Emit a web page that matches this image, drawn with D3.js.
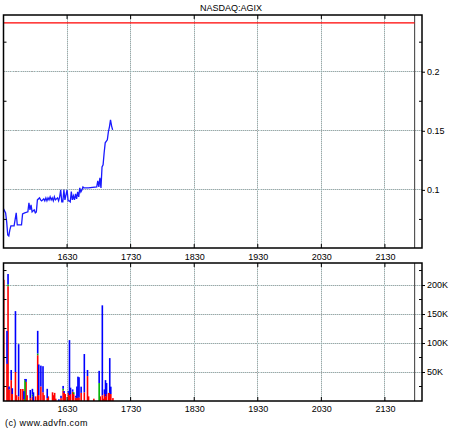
<!DOCTYPE html>
<html>
<head>
<meta charset="utf-8">
<script src="https://cdn.jsdelivr.net/npm/d3@7"></script>
<style>
body { margin: 0; background: #fff; }
text { font-family: "Liberation Sans", Arial, sans-serif; font-size: 9px; fill: #000; }
</style>
</head>
<body>
<div id="chart"></div>
<script>
//Datos del gráfico
const TITLE = 'NASDAQ:AGIX';
const COPY = '(c) www.advfn.com';

const priceTimes = ['15:30','15:31','15:32','15:33','15:34','15:35','15:36','15:37','15:40','15:42','15:43','15:47','15:48','15:50','15:53','15:54','15:55','15:56','15:57','15:59','16:00','16:01','16:02','16:04','16:05','16:06','16:08','16:09','16:10','16:11','16:12','16:13','16:14','16:15','16:16','16:17','16:18','16:19','16:21','16:22','16:23','16:24','16:25','16:26','16:27','16:28','16:29','16:30','16:31','16:32','16:33','16:34','16:35','16:36','16:37','16:38','16:39','16:40','16:41','16:42','16:43','16:44','16:45','16:46','16:50','16:58','16:59','17:00','17:01','17:02','17:03','17:04','17:05','17:06','17:08','17:09','17:10','17:11','17:12','17:13'];
const priceValues = [0.0839,0.0822,0.0805,0.0729,0.0619,0.0610,0.0661,0.0695,0.0695,0.0805,0.0703,0.0703,0.0797,0.0805,0.0814,0.0890,0.0831,0.0873,0.0814,0.0831,0.0805,0.0814,0.0915,0.0932,0.0915,0.0907,0.0924,0.0907,0.0932,0.0907,0.0932,0.0915,0.0941,0.0915,0.0932,0.0907,0.0941,0.0915,0.0932,0.0907,0.0941,0.1000,0.0898,0.0898,0.1000,0.0915,0.0958,0.1000,0.0907,0.0907,0.0898,0.0986,0.0915,0.0949,0.0915,0.0966,0.0924,0.0983,0.0941,0.1017,0.0983,0.1000,0.1025,0.1017,0.1017,0.1025,0.1076,0.1025,0.1102,0.1017,0.1195,0.1212,0.1314,0.1398,0.1424,0.1492,0.1534,0.1593,0.1542,0.1508];

const prevClose = 0.2413;
const closeTime = '21:58';

const volTimes = ['15:30','15:33','15:34','15:35','15:37','15:38','15:41','15:42','15:44','15:46','15:48','15:49','15:50','15:51','15:52','15:55','15:57','15:58','16:00','16:02','16:03','16:05','16:07','16:08','16:11','16:12','16:16','16:17','16:18','16:19','16:22','16:24','16:26','16:27','16:28','16:31','16:32','16:33','16:35','16:36','16:38','16:39','16:40','16:41','16:43','16:46','16:49','16:50','16:55','17:00','17:01','17:03','17:04','17:05','17:06','17:07','17:09','17:10','17:11','17:13'];
const volRed =   [209000,64000,198000,20000,36000,12000,50000,10000,8000,20700,20700,3000,0,33000,10000,5000,8000,0,8000,79000,10000,25000,15000,10000,5000,8000,15000,10000,14000,4000,0,5000,18000,14000,12000,14000,10000,12000,16000,12000,6000,5000,8000,6000,14000,15000,43000,8000,4000,0,8000,10000,4000,12000,8000,12000,14000,14000,12000,5000];
const volGreen = [0,0,3000,0,0,0,0,0,0,0,0,0,36000,0,0,0,3000,0,0,3000,0,0,0,0,0,0,0,0,0,0,0,0,3000,0,0,0,0,0,0,3000,0,0,0,0,0,0,0,0,0,31000,0,0,0,0,0,0,0,0,0,0];
const volBlue =  [0,57000,18000,5000,17500,10000,105000,0,90000,0,0,14000,2000,5000,0,14000,10000,15000,0,39000,53000,36000,45000,0,16000,0,0,0,0,0,3000,4000,5000,3000,0,3000,95000,11000,4000,0,3000,20000,34000,35000,10700,66000,10500,0,0,21000,0,155000,0,8000,28000,19000,0,60000,12700,0];

const hourTicks = ['16:30','17:30','18:30','19:30','20:30','21:30'];
const priceTicks = [0.1, 0.15, 0.2];
const priceMinor = [0.075, 0.125, 0.175, 0.225];
const volTicks = [50000, 100000, 150000, 200000];
const volMinor = [25000, 75000, 125000, 175000, 225000];

//Colores
const COLOR_LINE = '#1a1aff', COLOR_RED = '#ff0000', COLOR_GREEN = '#00b000', COLOR_BLUE = '#0000ff';
const GRID_BASE = '#c4dede', GRID_DOT = '#a4a4a4';

const parse = d3.timeParse('%H:%M');
const W = 460, H = 430;
const left = 3.5, right = 422;
const up = {top: 15, bottom: 248};
const low = {top: 263, bottom: 401};

const svg = d3.select('#chart').append('svg')
    .attr('width', W).attr('height', H);

const x = d3.scaleTime()
    .domain([parse('15:30'), parse('22:05')])
    .range([left, right]);

const yP = d3.scaleLinear().domain([0.0508, 0.248]).range([up.bottom, up.top]);
const yV = d3.scaleLinear().domain([0, 238000]).range([low.bottom, low.top]);

function grid(g, yScale, yTicks, box) {
    //Rejilla punteada
    const gl = g.append('g').attr('shape-rendering', 'crispEdges');
    hourTicks.forEach(function(t) {
        [[GRID_BASE, null], [GRID_DOT, '1,1']].forEach(function(s) {
            gl.append('line')
                .attr('x1', x(parse(t))).attr('x2', x(parse(t)))
                .attr('y1', box.top).attr('y2', box.bottom)
                .attr('stroke', s[0]).attr('stroke-dasharray', s[1]);
        });
    });
    yTicks.forEach(function(v) {
        [[GRID_BASE, null], [GRID_DOT, '1,1']].forEach(function(s) {
            gl.append('line')
                .attr('x1', left).attr('x2', right)
                .attr('y1', yScale(v)).attr('y2', yScale(v))
                .attr('stroke', s[0]).attr('stroke-dasharray', s[1]);
        });
    });

    //Marca de cierre
    g.append('line')
        .attr('x1', x(parse(closeTime))).attr('x2', x(parse(closeTime)))
        .attr('y1', box.top).attr('y2', box.bottom)
        .attr('stroke', '#555').attr('stroke-width', 1.2);
}

function frame(g, yScale, yTicks, yMinor, box, fmt, labelPad) {
    g.append('rect')
        .attr('x', left).attr('y', box.top)
        .attr('width', right - left).attr('height', box.bottom - box.top)
        .attr('fill', 'none').attr('stroke', '#000').attr('stroke-width', 1.5);

    //Ticks menores interiores
    yMinor.forEach(function(v) {
        g.append('line').attr('x1', left).attr('x2', left + 3)
            .attr('y1', yScale(v)).attr('y2', yScale(v)).attr('stroke', '#000');
        g.append('line').attr('x1', right - 3).attr('x2', right)
            .attr('y1', yScale(v)).attr('y2', yScale(v)).attr('stroke', '#000');
    });
    hourTicks.forEach(function(t) {
        g.append('line').attr('x1', x(parse(t))).attr('x2', x(parse(t)))
            .attr('y1', box.top).attr('y2', box.top + 4).attr('stroke', '#000');
        g.append('line').attr('x1', x(parse(t))).attr('x2', x(parse(t)))
            .attr('y1', box.bottom - 4).attr('y2', box.bottom).attr('stroke', '#000');
    });

    //Eje derecho
    const ya = g.append('g')
        .attr('transform', 'translate(' + right + ',0)')
        .call(d3.axisRight(yScale).tickValues(yTicks).tickSize(3).tickPadding(2).tickFormat(fmt));
    ya.select('.domain').remove();
    ya.selectAll('text').style('font-family', '"Liberation Sans", Arial, sans-serif').attr('font-size', 9);

    //Eje inferior
    const xa = g.append('g')
        .attr('transform', 'translate(0,' + box.bottom + ')')
        .call(d3.axisBottom(x).tickValues(hourTicks.map(parse)).tickSize(0).tickPadding(labelPad).tickFormat(d3.timeFormat('%H%M')));
    xa.select('.domain').remove();
    xa.selectAll('text').style('font-family', '"Liberation Sans", Arial, sans-serif').attr('font-size', 9);
}

/////////////////PANEL DE PRECIO
const gP = svg.append('g');
grid(gP, yP, priceTicks, up);

gP.append('line')
    .attr('x1', left).attr('x2', x(parse(closeTime)))
    .attr('y1', yP(prevClose)).attr('y2', yP(prevClose))
    .attr('stroke', COLOR_RED).attr('stroke-width', 1.2);

const priceData = priceTimes.map(function(t, i) { return {t: parse(t), v: priceValues[i]}; });
gP.append('path')
    .datum(priceData)
    .attr('fill', 'none')
    .attr('stroke', COLOR_LINE)
    .attr('stroke-width', 1.3)
    .attr('d', d3.line().x(function(d) { return x(d.t); }).y(function(d) { return yP(d.v); }));

frame(gP, yP, priceTicks, priceMinor, up, d3.format(''), 5.5);

/////////////////PANEL DE VOLUMEN
const gV = svg.append('g');
grid(gV, yV, volTicks, low);

const volData = volTimes.map(function(t, i) {
    return {t: parse(t), red: volRed[i], green: volGreen[i], blue: volBlue[i]};
});
const stacked = d3.stack().keys(['red', 'green', 'blue'])(volData);
const colors = {red: COLOR_RED, green: COLOR_GREEN, blue: COLOR_BLUE};

gV.append('g').selectAll('g')
    .data(stacked)
    .enter().append('g')
    .attr('fill', function(s) { return colors[s.key]; })
    .selectAll('rect')
    .data(function(s) { return s; })
    .enter().append('rect')
    .attr('x', function(d) { return x(d.data.t) - 0.5; })
    .attr('width', 1.6)
    .attr('y', function(d) { return yV(d[1]); })
    .attr('height', function(d) { return yV(d[0]) - yV(d[1]); });

frame(gV, yV, volTicks, volMinor, low, function(d) { return (d / 1000) + 'K'; }, 4.5);

//Textos
svg.append('text')
    .attr('x', 231).attr('y', 11)
    .attr('text-anchor', 'middle')
    .text(TITLE);

svg.append('text')
    .attr('x', 5).attr('y', 426)
    .style('letter-spacing', '0.4px')
    .text(COPY);
</script>
</body>
</html>
